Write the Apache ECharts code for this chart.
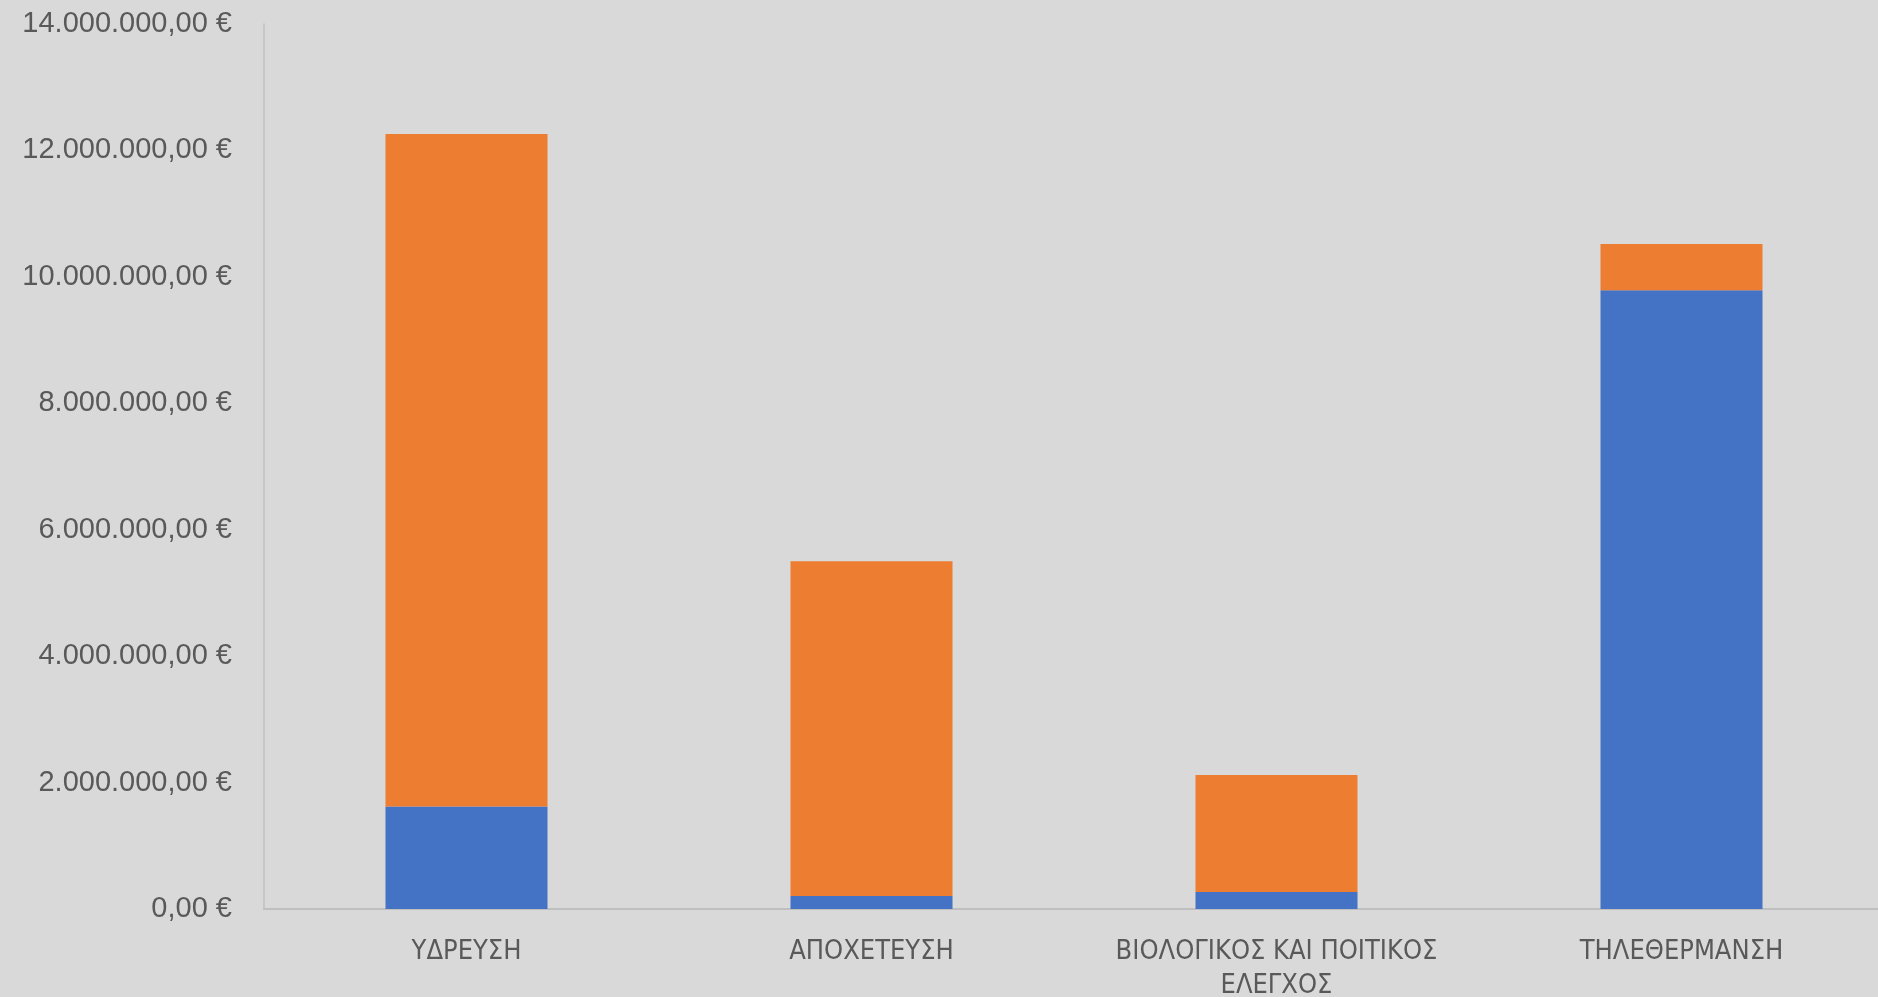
<!DOCTYPE html>
<html>
<head>
<meta charset="utf-8">
<script src="https://cdn.jsdelivr.net/npm/echarts@6/dist/echarts.min.js"></script>
<style>
html, body { margin: 0; padding: 0; background: #d9d9d9; }
#chart { width: 1878px; height: 997px; }
</style>
</head>
<body>
<div id="chart"></div>
<script>
// κατηγορίες έργων
var categories = ['ΥΔΡΕΥΣΗ', 'ΑΠΟΧΕΤΕΥΣΗ', 'ΒΙΟΛΟΓΙΚΟΣ ΚΑΙ ΠΟΙΤΙΚΟΣ ΕΛΕΓΧΟΣ', 'ΤΗΛΕΘΕΡΜΑΝΣΗ'];
// κάτω τμήμα (μπλε) και πάνω τμήμα (πορτοκαλί)
var seriesBlue = [1620000, 206000, 270000, 9790000];
var seriesOrange = [10640000, 5294000, 1850000, 730000];
var yTicks = { min: 0, max: 14000000, interval: 2000000 };

function euro(v) {
	var s = Math.round(v).toString().replace(/\B(?=(\d{3})+(?!\d))/g, '.');
	return s + ',00 €';
}

// μακριές ετικέτες σπάνε στο τελευταίο κενό, όπως στο Excel
function wrap(name) {
	if (name.length < 26) return name;
	var i = name.lastIndexOf(' ');
	return name.slice(0, i) + '\n' + name.slice(i + 1);
}

var myChart = echarts.init(document.getElementById('chart'));
var option = {
	backgroundColor: '#d9d9d9',
	animation: false,
	grid: {
		left: 264,
		right: -6,
		top: 24,
		bottom: 88,
		containLabel: false,
		outerBoundsMode: 'none'
	},
	xAxis: {
		type: 'category',
		data: categories,
		axisLine: { lineStyle: { color: '#bfbfbf', width: 2 } },
		axisTick: { show: false },
		axisLabel: {
			color: '#595959',
			fontFamily: 'Liberation Sans Narrow, DejaVu Sans Condensed, sans-serif',
			fontSize: 27,
			margin: 26,
			lineHeight: 34,
			interval: 0,
			formatter: wrap
		}
	},
	yAxis: {
		type: 'value',
		min: yTicks.min,
		max: yTicks.max,
		interval: yTicks.interval,
		splitLine: { show: false },
		axisLine: { show: true, lineStyle: { color: '#bfbfbf', width: 1.5 } },
		axisTick: { show: false },
		axisLabel: {
			color: '#595959',
			fontFamily: 'Liberation Sans, Arial, sans-serif',
			fontSize: 29,
			margin: 32,
			formatter: euro
		}
	},
	series: [
		{
			name: 'Σειρά1',
			type: 'bar',
			stack: 'total',
			barWidth: '40%',
			data: seriesBlue,
			itemStyle: { color: '#4472c4' }
		},
		{
			name: 'Σειρά2',
			type: 'bar',
			stack: 'total',
			barWidth: '40%',
			data: seriesOrange,
			itemStyle: { color: '#ed7d31' }
		}
	]
};
myChart.setOption(option);
</script>
</body>
</html>
